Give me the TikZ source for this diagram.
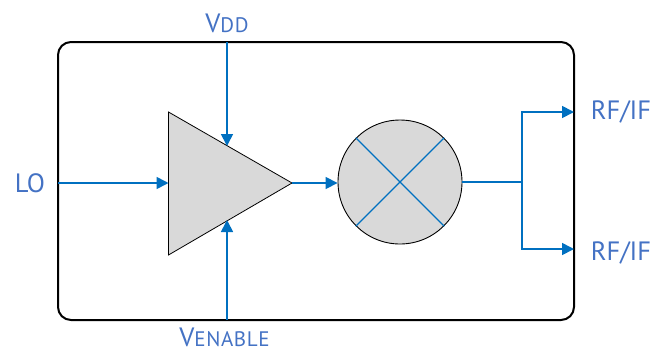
\documentclass[tikz,border=0pt]{standalone}
\usepackage{fontspec}
\setmainfont{PT Sans}
\usetikzlibrary{arrows.meta,calc}
\definecolor{wire}{HTML}{0070C0}
\definecolor{lab}{HTML}{4472C4}
\definecolor{fillg}{HTML}{D9D9D9}
\tikzset{
  x=1pt,y=-1pt,
  wireline/.style={draw=wire,line width=1.7pt},
  arrowline/.style={wireline,-{Triangle[length=12pt,width=12pt]}},
  labeltxt/.style={text=lab,font=\fontsize{26.5}{27}\selectfont,inner sep=0pt,anchor=base},
}
\newcommand{\subcaps}[1]{{\fontsize{21}{21}\selectfont\addfontfeature{LetterSpace=3}#1}}
\begin{document}
\begin{tikzpicture}
\useasboundingbox (0,0) rectangle (666,349);
\draw[line width=2pt,black,rounded corners=13pt] (58,42) rectangle (574,320);
\coordinate (boxL) at (58,183);
\coordinate (vddT) at (227,42);
\coordinate (venB) at (227,320);
\coordinate (out1) at (574,112);
\coordinate (out2) at (574,249);
\coordinate (ampIn) at (168.5,183);
\coordinate (ampTop) at (227,146);
\coordinate (ampBot) at (227,220);
\node[draw=black,line width=0.9pt,fill=fillg,circle,minimum size=124pt,inner sep=0pt] (mix) at (400,182) {};
\coordinate (split) at (522,182);
\draw[wire,line width=1.2pt] (mix.45) -- (mix.225) (mix.135) -- (mix.315);
\draw[black,line width=0.8pt,fill=fillg] (168.5,112) coordinate (a1) -- (292,183) coordinate (ampOut) -- (168.5,255) coordinate (a3) -- cycle;
\draw[arrowline] (boxL) -- (ampIn);
\draw[arrowline] (vddT) -- (ampTop);
\draw[arrowline] (venB) -- (ampBot);
\draw[arrowline] (ampOut) -- (ampOut -| mix.west);
\draw[wireline] (mix.east) -- (split);
\draw[arrowline] (split) |- (out1);
\draw[arrowline] (split) |- (out2);
\node[labeltxt] (lo) at (30,192) {LO};
\node[labeltxt] (rf1) at (621,119) {RF/IF};
\node[labeltxt] (rf2) at (621,260) {RF/IF};
\node[labeltxt] (vdd) at (227,32) {V\subcaps{DD}};
\node[labeltxt] (ven) at (224.5,346.5) {V\subcaps{ENABLE}};
\end{tikzpicture}
\end{document}
